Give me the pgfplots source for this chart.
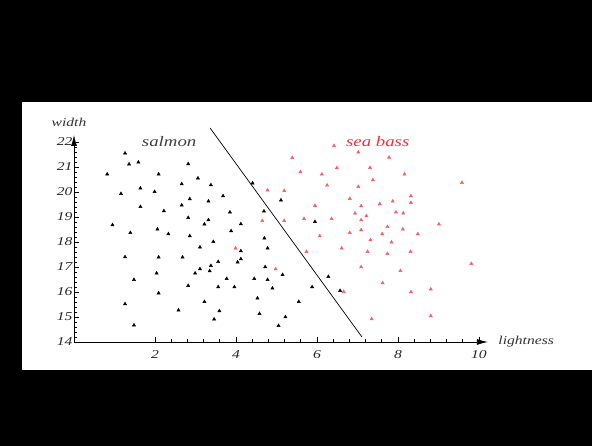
\documentclass[border=0pt]{standalone}
\usepackage{graphicx}
\usepackage{pgfplots}
\pgfplotsset{compat=1.18}
\usepackage{fontspec}
\setmainfont{Liberation Serif}
\usetikzlibrary{arrows.meta}
\definecolor{bass}{RGB}{250,95,105}
\definecolor{basstext}{RGB}{250,45,55}
\newcommand{\wide}[1]{\scalebox{1.3}[1]{#1}}
\begin{document}
\begin{tikzpicture}[x=1pt,y=1pt]
\fill[black] (0,0) rectangle (592,446);
\fill[white] (22,76) rectangle (592,344);
\begin{axis}[
 at={(74pt,104pt)}, anchor=south west,
 scale only axis, width=413.9pt, height=207pt,
 xmin=0, xmax=10.22, ymin=14, ymax=22.28,
 axis lines=left,
 axis line style={line width=0.8pt, -{Latex[length=11pt,width=6pt]}},
 tick align=inside,
 xtick={2,4,6,8,10}, ytick={14,15,...,22},
 minor x tick num=4, minor y tick num=4,
 major tick length=4.5pt, minor tick length=2.5pt,
 tick style={black, line width=0.6pt},
 xticklabel={\wide{\itshape\pgfmathprintnumber[assume math mode=true]{\tick}}},
 yticklabel={\wide{\itshape\pgfmathprintnumber[assume math mode=true]{\tick}}},
 every tick label/.append style={font=\fontsize{12}{14}\selectfont, text=black!85},
 xticklabel style={yshift=-5pt},
 yticklabel style={xshift=2pt},
 every axis x label/.style={at={(rel axis cs:1,0)}, anchor=west, xshift=7pt, font=\fontsize{12}{14}\selectfont, text=black!80},
 every axis y label/.style={at={(rel axis cs:0,1)}, anchor=south, xshift=-5pt, yshift=5pt, font=\fontsize{12}{14}\selectfont, text=black!80},
 xlabel={\wide{\itshape lightness}},
 ylabel={\wide{\itshape width}},
 clip=false,
]
\addplot[only marks, mark=triangle*, mark size=1.9pt, color=black] coordinates {
(1.26,21.55) (1.36,21.11) (1.59,21.19) (0.82,20.71) (2.82,21.12) (2.09,20.71)
(3.06,20.55) (3.38,20.28) (2.66,20.32) (1.64,20.15) (1.99,20.01) (1.16,19.93)
(2.86,19.72) (3.32,19.63) (2.66,19.47) (1.64,19.41) (2.22,19.24) (2.82,18.97)
(3.32,18.88) (3.22,18.71) (0.95,18.68) (1.39,18.37) (2.06,18.51) (2.33,18.32)
(2.86,18.24) (3.44,18.01) (3.11,17.79) (1.26,17.40) (2.09,17.39) (2.68,17.39)
(3.38,17.05) (3.11,16.92) (3.35,16.84) (2.04,16.75) (2.99,16.75) (1.48,16.49)
(2.82,16.25) (2.09,15.95) (3.22,15.61) (1.26,15.52) (2.58,15.27) (3.46,14.91)
(1.48,14.67) (4.41,20.35) (3.68,19.84) (5.11,19.67) (3.85,19.19) (4.69,19.23)
(4.12,18.72) (5.95,18.81) (3.88,18.44) (4.70,18.15) (4.12,17.64) (4.78,17.75)
(3.56,17.21) (4.12,17.32) (4.04,17.19) (4.72,17.00) (3.77,16.53) (4.45,16.53)
(4.78,16.49) (5.15,16.69) (6.28,16.61) (3.56,16.20) (3.96,16.20) (4.90,16.15)
(5.88,16.20) (6.57,16.05) (4.53,15.75) (5.55,15.61) (3.59,15.24) (4.58,15.13)
(5.22,15.00) (5.05,14.65)
};
\addplot[only marks, mark=triangle*, mark size=1.9pt, color=bass] coordinates {
(6.42,21.85) (7.02,21.59) (5.39,21.37) (7.78,21.38) (6.49,20.96) (7.31,20.97)
(5.59,20.80) (6.12,20.71) (8.16,20.71) (6.25,20.27) (7.38,20.48) (7.02,20.21)
(9.58,20.37) (4.78,20.07) (5.19,20.05) (8.32,19.84) (6.81,19.73) (7.87,19.63)
(7.55,19.52) (7.09,19.44) (8.32,19.57) (5.95,19.45) (6.94,19.15) (7.95,19.19)
(8.13,19.15) (7.22,19.04) (7.09,18.88) (6.36,18.93) (5.68,18.93) (5.19,18.85)
(4.65,18.85) (9.01,18.71) (7.74,18.61) (8.12,18.51) (7.09,18.48) (6.81,18.37)
(7.61,18.32) (8.49,18.32) (6.07,18.24) (7.32,18.08) (7.84,17.99) (3.99,17.75)
(6.61,17.75) (5.74,17.61) (7.25,17.61) (7.74,17.53) (8.31,17.61) (9.81,17.13)
(7.09,17.00) (4.98,16.92) (8.06,16.85) (7.62,16.36) (8.81,16.11) (8.32,16.00)
(6.66,16.01) (7.35,14.92) (8.81,15.04)
};
\addplot[black, line width=0.7pt] coordinates {(3.36,22.56) (7.11,14.2)};
\node[text=black!75, font=\fontsize{14.5}{16}\selectfont] at (axis cs:2.35,22.0) {\wide{\itshape salmon}};
\node[text=basstext, font=\fontsize{14.5}{16}\selectfont] at (axis cs:7.5,22.0) {\wide{\itshape sea bass}};
\end{axis}
\end{tikzpicture}
\end{document}
